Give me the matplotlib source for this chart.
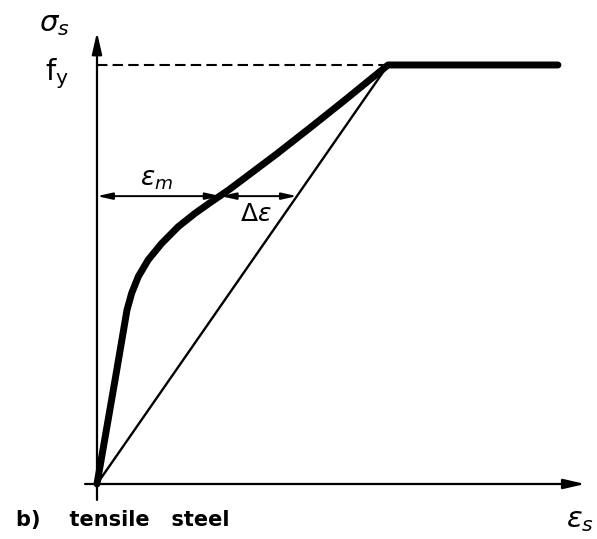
import matplotlib.pyplot as plt

# mean stress-strain curve of the tensile steel (eps / eps_y, sigma / f_y)
eps_curve = [0.0, 0.062, 0.103, 0.119, 0.142, 0.176, 0.222, 0.279, 0.337,
             0.394, 0.451, 0.503, 0.618, 0.732, 0.846, 1.0, 1.584]
sig_curve = [0.0, 0.248, 0.415, 0.455, 0.495, 0.535, 0.574, 0.614, 0.646,
             0.674, 0.701, 0.728, 0.788, 0.850, 0.913, 1.0, 1.0]

# bare steel (linear up to yield)
eps_bare = [0.0, 1.0]
sig_bare = [0.0, 1.0]

fy = 1.0
sig_level = 0.687      # stress level of the strain arrows
eps_m = 0.425          # mean strain at that level
eps_s = 0.687          # bare steel strain at that level

fig = plt.figure(figsize=(5.97, 5.39), dpi=100)
ax = fig.add_axes([0, 0, 1, 1])
ax.set_xlim(-0.3333, 1.7182)
ax.set_ylim(-0.1313, 1.1551)
ax.axis('off')

# axes with arrows
ax.annotate('', xy=(0, 1.078), xytext=(0, -0.038),
            arrowprops=dict(arrowstyle='-|>,head_length=1.3,head_width=0.3',
                            lw=1.6, color='black', shrinkA=0, shrinkB=0))
ax.annotate('', xy=(1.677, 0), xytext=(-0.041, 0),
            arrowprops=dict(arrowstyle='-|>,head_length=1.3,head_width=0.3',
                            lw=1.6, color='black', shrinkA=0, shrinkB=0))

# yield level, dashed
ax.plot([0, eps_bare[-1]], [fy, fy], color='black', lw=1.5, ls=(0, (5, 2.5)))

# curves
ax.plot(eps_bare, sig_bare, color='black', lw=1.7)
ax.plot(eps_curve, sig_curve, color='black', lw=5, solid_capstyle='round',
        solid_joinstyle='round')

# strain arrows
arr = dict(arrowstyle='<|-|>,head_length=0.9,head_width=0.2', lw=1.4,
           color='black', shrinkA=0, shrinkB=0)
ax.annotate('', xy=(eps_m, sig_level), xytext=(0, sig_level), arrowprops=arr)
ax.annotate('', xy=(eps_s, sig_level), xytext=(eps_m, sig_level), arrowprops=arr)

# labels
ax.text(-0.147, 1.097, r'$\sigma_s$', fontsize=21, ha='center', va='center')
ax.text(-0.137, 0.98, r'$\mathregular{f_y}$', fontsize=21, ha='center', va='center')
ax.text(0.206, 0.727, r'$\varepsilon_m$', fontsize=19, ha='center', va='center')
ax.text(0.545, 0.645, r'$\Delta\varepsilon$', fontsize=18, ha='center', va='center')
ax.text(1.66, -0.085, r'$\varepsilon_s$', fontsize=21, ha='center', va='center')
ax.text(-0.28, -0.085, 'b)    tensile   steel', fontsize=15, fontweight='bold',
        ha='left', va='center')

fig.savefig('out.png', dpi=100)
